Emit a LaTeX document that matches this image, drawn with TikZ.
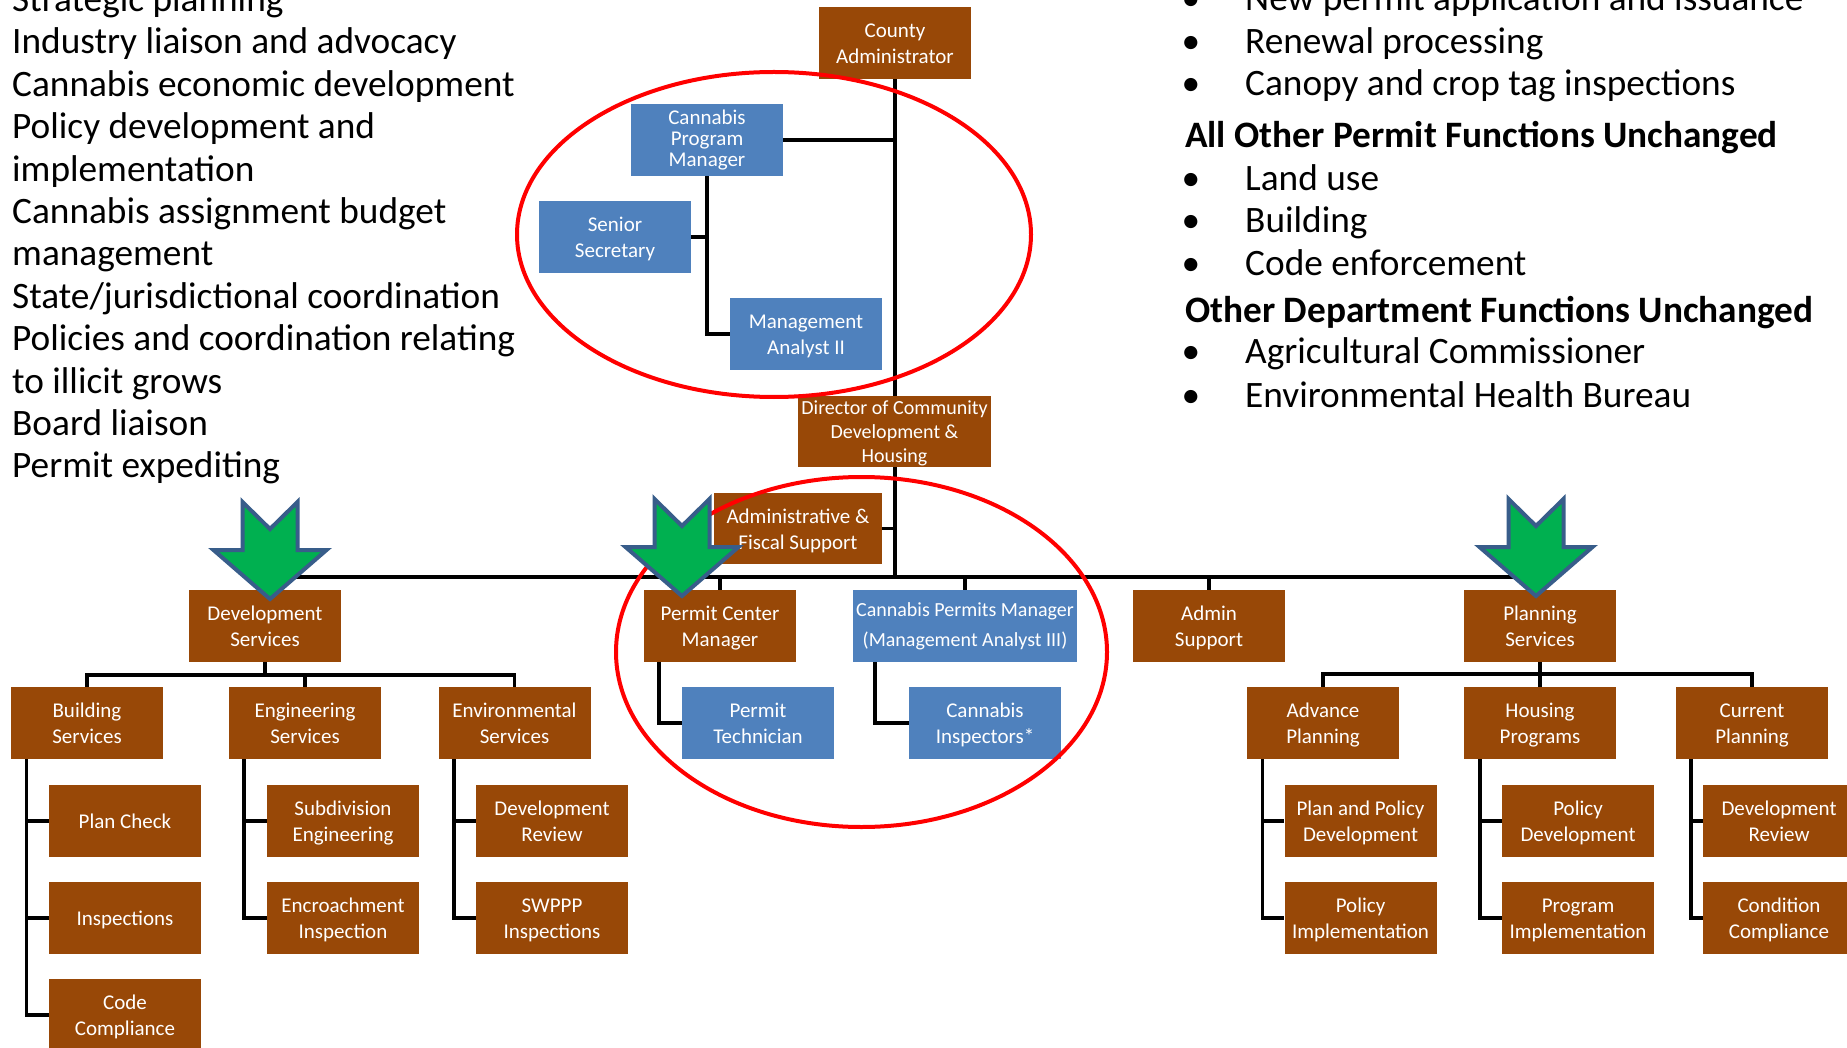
\documentclass[tikz,border=0pt]{standalone}
\usepackage{fontspec}
\setmainfont{Carlito}
\usetikzlibrary{backgrounds}
\definecolor{boxbrown}{HTML}{984807}
\definecolor{boxblue}{HTML}{4F81BD}
\definecolor{arrowgreen}{HTML}{00B050}
\definecolor{arrowedge}{HTML}{385D8A}
\definecolor{ringred}{HTML}{FF0000}
\newcommand{\mytop}{\rule{0pt}{20.9pt}}
\newcommand{\mybot}{\rule[-5.5pt]{0pt}{5.5pt}}
\begin{document}
\begin{tikzpicture}[x=1pt,y=-1pt,
  orgbox/.style={rectangle, fill=boxbrown, text=white, minimum width=152pt, minimum height=72pt, inner sep=0pt, align=center, font=\fontsize{21}{26}\selectfont},
  bluebox/.style={orgbox, fill=boxblue},
  conn/.style={line width=3.5pt, draw=black},
  ring/.style={draw=ringred, line width=4pt},
  bigtext/.style={anchor=base west, inner sep=0pt, font=\fontsize{37.3}{42}\selectfont},
  headtext/.style={anchor=base west, inner sep=0pt, font=\fontsize{37.3}{42}\selectfont\bfseries},
  bulletmark/.style={anchor=base, inner sep=0pt, font=\fontsize{37.3}{42}\selectfont},
  greenarrow/.pic={\draw[line width=4pt, draw=arrowedge, fill=arrowgreen, line join=miter]
     (-27.5,-97) -- (0,-70) -- (27.5,-97) -- (27.5,-49) -- (56.5,-49) -- (0,0) -- (-56.5,-49) -- (-27.5,-49) -- cycle;}
]
\useasboundingbox (0,0) rectangle (1847,1048);

% ---------- left text ----------
\node[bigtext] (l1) at (12,11.5) {Strategic planning};
\node[bigtext] (l2) at (12,53.9) {Industry liaison and advocacy};
\node[bigtext] (l3) at (12,96.3) {Cannabis economic development};
\node[bigtext] (l4) at (12,138.7) {Policy development and};
\node[bigtext] (l5) at (12,181.1) {implementation};
\node[bigtext] (l6) at (12,223.5) {Cannabis assignment budget};
\node[bigtext] (l7) at (12,265.9) {management};
\node[bigtext] (l8) at (12,308.3) {State/jurisdictional coordination};
\node[bigtext] (l9) at (12,350.7) {Policies and coordination relating};
\node[bigtext] (l10) at (12,393.1) {to illicit grows};
\node[bigtext] (l11) at (12,435.5) {Board liaison};
\node[bigtext] (l12) at (12,477.9) {Permit expediting};

% ---------- right text ----------
\node[bulletmark] (b1) at (1191,11) {•};
\node[bigtext] (r1) at (1245,11) {New permit application and issuance};
\node[bulletmark] (b2) at (1191,54) {•};
\node[bigtext] (r2) at (1245,54) {Renewal processing};
\node[bulletmark] (b3) at (1191,96) {•};
\node[bigtext] (r3) at (1245,96) {Canopy and crop tag inspections};
\node[headtext] (h1) at (1185,148) {All Other Permit Functions Unchanged};
\node[bulletmark] (b4) at (1191,191) {•};
\node[bigtext] (r4) at (1245,191) {Land use};
\node[bulletmark] (b5) at (1191,233) {•};
\node[bigtext] (r5) at (1245,233) {Building};
\node[bulletmark] (b6) at (1191,276) {•};
\node[bigtext] (r6) at (1245,276) {Code enforcement};
\node[headtext] (h2) at (1185,323) {Other Department Functions Unchanged};
\node[bulletmark] (b7) at (1191,364) {•};
\node[bigtext] (r7) at (1245,364) {Agricultural Commissioner};
\node[bulletmark] (b8) at (1191,407) {•};
\node[bigtext] (r8) at (1245,407) {Environmental Health Bureau};

% ---------- boxes ----------
\node[orgbox] (ca) at (895,43) {\mytop County\\Administrator\mybot};
\node[bluebox, font=\fontsize{21}{21}\selectfont] (cpm) at (707,140) {\rule{0pt}{16.5pt}Cannabis\\Program\\Manager\mybot};
\node[bluebox] (ss) at (615,237) {\mytop Senior\\Secretary\mybot};
\node[bluebox] (ma) at (806,334) {\mytop Management\\Analyst II\mybot};
\node[orgbox, minimum width=193pt, minimum height=71pt, font=\fontsize{20}{24}\selectfont] (dir) at (894.5,431.5) {\rule{0pt}{18pt}Director of Community\\Development \&\\Housing\rule[-5pt]{0pt}{5pt}};
\node[orgbox, minimum width=168pt, minimum height=71pt] (afs) at (798,528.5) {\mytop Administrative \&\\Fiscal Support\mybot};

\node[orgbox] (ds) at (265,626) {\mytop Development\\Services\mybot};
\node[orgbox] (pcm) at (720,626) {\mytop Permit Center\\Manager\mybot};
\node[bluebox, minimum width=224pt, font=\fontsize{20}{30}\selectfont] (cpmb) at (965,626) {Cannabis Permits Manager\\(Management Analyst III)};
\node[orgbox] (as) at (1209,626) {\mytop Admin\\Support\mybot};
\node[orgbox] (ps) at (1540,626) {\mytop Planning\\Services\mybot};

\node[orgbox] (bs) at (87,723) {\mytop Building\\Services\mybot};
\node[orgbox] (es) at (305,723) {\mytop Engineering\\Services\mybot};
\node[orgbox] (ens) at (514.5,723) {\mytop Environmental\\Services\mybot};
\node[bluebox] (pt) at (758,723) {\mytop Permit\\Technician\mybot};
\node[bluebox] (ci) at (985,723) {\mytop Cannabis\\Inspectors*\mybot};
\node[orgbox] (ap) at (1323,723) {\mytop Advance\\Planning\mybot};
\node[orgbox] (hp) at (1540,723) {\mytop Housing\\Programs\mybot};
\node[orgbox] (cp) at (1752,723) {\mytop Current\\Planning\mybot};

\node[orgbox] (pc) at (125,821) {\mytop Plan Check\mybot};
\node[orgbox] (ins) at (125,918) {\mytop Inspections\mybot};
\node[orgbox] (cc) at (125,1015) {\mytop Code\\Compliance\mybot};
\node[orgbox] (se) at (343,821) {\mytop Subdivision\\Engineering\mybot};
\node[orgbox] (ei) at (343,918) {\mytop Encroachment\\Inspection\mybot};
\node[orgbox] (edr) at (552,821) {\mytop Development\\Review\mybot};
\node[orgbox] (sw) at (552,918) {\mytop SWPPP\\Inspections\mybot};
\node[orgbox] (ppd) at (1360.5,821) {\mytop Plan and Policy\\Development\mybot};
\node[orgbox] (pim) at (1360.5,918) {\mytop Policy\\Implementation\mybot};
\node[orgbox] (pd) at (1578,821) {\mytop Policy\\Development\mybot};
\node[orgbox] (pgi) at (1578,918) {\mytop Program\\Implementation\mybot};
\node[orgbox] (cdr) at (1779,821) {\mytop Development\\Review\mybot};
\node[orgbox] (ccp) at (1779,918) {\mytop Condition\\Compliance\mybot};

\coordinate (bus) at (0,577);
\coordinate (dsb) at (0,675);
\coordinate (psb) at (0,674);
\coordinate (bsv) at ([xshift=15.5pt]bs.south west);
\coordinate (esv) at ([xshift=15pt]es.south west);
\coordinate (ensv) at ([xshift=15.6pt]ens.south west);
\coordinate (pcmv) at ([xshift=15pt]pcm.south west);
\coordinate (cpmbv) at ([xshift=22pt]cpmb.south west);
\coordinate (apv) at ([xshift=15.5pt]ap.south west);
\coordinate (hpv) at ([xshift=16pt]hp.south west);
\coordinate (cpv) at ([xshift=15pt]cp.south west);

% ---------- connectors ----------
\begin{scope}[on background layer]
\fill[white] (0,0) rectangle (1847,1048);
\draw[conn] (ca.south) -- (ca.south |- bus);
\draw[conn] (cpm.east) -- (ca.south |- cpm.east);
\draw[conn] (cpm.south) |- (ma.west);
\draw[conn] (ss.east) -- (cpm.south |- ss.east);
\draw[conn] (afs.east) -- (ca.south |- afs.east);
\draw[conn] (ds.north) -- (ds.north |- bus) -- (ps.north |- bus) -- (ps.north);
\draw[conn] (pcm.north) -- (pcm.north |- bus);
\draw[conn] (cpmb.north) -- (cpmb.north |- bus);
\draw[conn] (as.north) -- (as.north |- bus);
% development services
\draw[conn] (ds.south) -- (ds.south |- dsb);
\draw[conn] (bs.north) -- (bs.north |- dsb) -- (ens.north |- dsb) -- (ens.north);
\draw[conn] (es.north) -- (es.north |- dsb);
\draw[conn] (bsv) |- (cc.west);
\draw[conn] (bsv |- pc.west) -- (pc.west);
\draw[conn] (bsv |- ins.west) -- (ins.west);
\draw[conn] (esv) |- (ei.west);
\draw[conn] (esv |- se.west) -- (se.west);
\draw[conn] (ensv) |- (sw.west);
\draw[conn] (ensv |- edr.west) -- (edr.west);
% permits
\draw[conn] (pcmv) |- (pt.west);
\draw[conn] (cpmbv) |- (ci.west);
% planning
\draw[conn] (ps.south) -- (ps.south |- psb);
\draw[conn] (ap.north) -- (ap.north |- psb) -- (cp.north |- psb) -- (cp.north);
\draw[conn] (hp.north) -- (hp.north |- psb);
\draw[conn] (apv) |- (pim.west);
\draw[conn] (apv |- ppd.west) -- (ppd.west);
\draw[conn] (hpv) |- (pgi.west);
\draw[conn] (hpv |- pd.west) -- (pd.west);
\draw[conn] (cpv) |- (ccp.west);
\draw[conn] (cpv |- cdr.west) -- (cdr.west);
\end{scope}

% ---------- red rings ----------
\draw[ring] (774,234.5) ellipse [x radius=257pt, y radius=162.5pt];
\draw[ring] (861.5,652) ellipse [x radius=245.5pt, y radius=175pt];

% ---------- green arrows ----------
\pic at (270,599) {greenarrow};
\pic at (682,596) {greenarrow};
\pic at (1536,596) {greenarrow};
\end{tikzpicture}
\end{document}
